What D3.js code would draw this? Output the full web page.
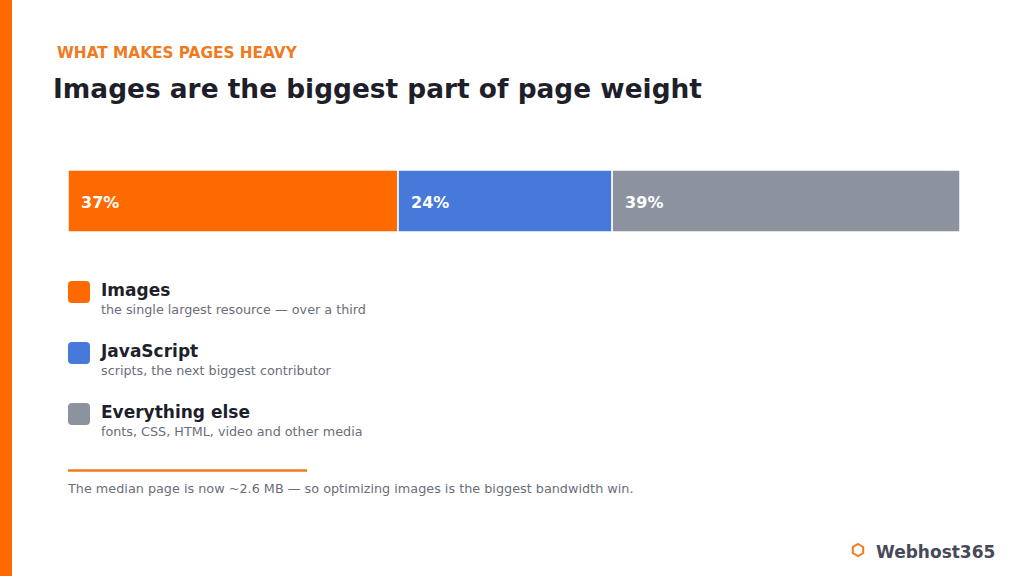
<!DOCTYPE html>
<html>
<head>
<meta charset="utf-8">
<script src="https://cdn.jsdelivr.net/npm/d3@7"></script>
<style>
  html, body { margin: 0; padding: 0; background: #fff; }
  svg { display: block; font-family: "DejaVu Sans", sans-serif; }
</style>
</head>
<body>
<div id="chart"></div>
<script>
let w = 1024;
let h = 576;

// data
let categories = ["Images", "JavaScript", "Everything else"];
let shares = [37, 24, 39];
let descriptions = [
  "the single largest resource \u2014 over a third",
  "scripts, the next biggest contributor",
  "fonts, CSS, HTML, video and other media"
];
let colors = ["#ff6a00", "#4779db", "#8d929f"];

let kicker = "WHAT MAKES PAGES HEAVY";
let title = "Images are the biggest part of page weight";
let note = "The median page is now ~2.6 MB \u2014 so optimizing images is the biggest bandwidth win.";
let brand = "Webhost365";

let svg = d3.select("#chart")
  .append("svg")
  .attr("width", w)
  .attr("height", h)
  .attr("viewBox", "0 0 " + w + " " + h);

// orange stripe on the left
svg.append("rect")
  .attr("x", 0).attr("y", 0)
  .attr("width", 12).attr("height", h)
  .attr("fill", "#ff6a00");

svg.append("text")
  .attr("x", 57).attr("y", 57.5)
  .attr("fill", "#f07a1e")
  .attr("font-size", 15.3)
  .attr("font-weight", "bold")
  .text(kicker);

svg.append("text")
  .attr("x", 53).attr("y", 98)
  .attr("fill", "#1e1f2b")
  .attr("font-size", 26.4)
  .attr("font-weight", "bold")
  .text(title);

// stacked bar
let stack = [];
let acc = 0;
shares.forEach((v, i) => {
  stack.push({ name: categories[i], value: v, x0: acc, x1: acc + v, color: colors[i] });
  acc += v;
});

let x = d3.scaleLinear()
  .domain([0, d3.sum(shares)])
  .range([68, 960]);

let barY = 170;
let barH = 62;

let segs = svg.append("g").attr("class", "bar")
  .selectAll("g")
  .data(stack)
  .enter()
  .append("g");

segs.append("rect")
  .attr("x", d => x(d.x0))
  .attr("y", barY)
  .attr("width", d => x(d.x1) - x(d.x0))
  .attr("height", barH)
  .attr("fill", d => d.color)
  .attr("stroke", "#fff")
  .attr("stroke-width", 1.5);

segs.append("text")
  .attr("x", d => x(d.x0) + 13)
  .attr("y", barY + barH / 2 + 1.5)
  .attr("dy", "0.36em")
  .attr("fill", "#fff")
  .attr("font-size", 16)
  .attr("font-weight", "bold")
  .text(d => d.value + "%");

// legend
let legend = svg.append("g").attr("class", "legend")
  .selectAll("g")
  .data(stack)
  .enter()
  .append("g")
  .attr("transform", (d, i) => "translate(68," + (281 + i * 61) + ")");

legend.append("rect")
  .attr("width", 22).attr("height", 22)
  .attr("rx", 4)
  .attr("fill", d => d.color);

legend.append("text")
  .attr("x", 33).attr("y", 15)
  .attr("fill", "#1e1f2b")
  .attr("font-size", 17)
  .attr("font-weight", "bold")
  .text(d => d.name);

legend.append("text")
  .attr("x", 33).attr("y", 33)
  .attr("fill", "#6b6e78")
  .attr("font-size", 12.75)
  .text((d, i) => descriptions[i]);

// rule + note
svg.append("line")
  .attr("x1", 68).attr("x2", 307)
  .attr("y1", 470.5).attr("y2", 470.5)
  .attr("stroke", "#f07a1e")
  .attr("stroke-width", 2.5);

svg.append("text")
  .attr("x", 68).attr("y", 493)
  .attr("fill", "#6b6e78")
  .attr("font-size", 12.8)
  .text(note);

// brand mark
let hex = d3.range(6).map(k => {
  let a = Math.PI / 3 * k - Math.PI / 2;
  return [858 + 6 * Math.cos(a), 550 + 6 * Math.sin(a)];
});
svg.append("path")
  .attr("d", d3.line()(hex) + "Z")
  .attr("fill", "none")
  .attr("stroke", "#f07a1e")
  .attr("stroke-width", 2);

svg.append("text")
  .attr("x", 876).attr("y", 558)
  .attr("fill", "#474a56")
  .attr("font-size", 17)
  .attr("font-weight", "bold")
  .text(brand);
</script>
</body>
</html>
